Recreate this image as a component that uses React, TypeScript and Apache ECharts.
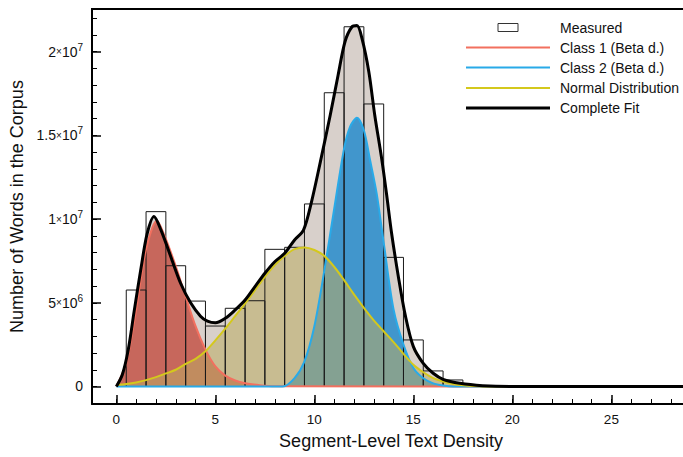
import React, { useEffect, useRef } from "react";
import * as echarts from "echarts";

const SCALE = 1e6;
const BIN_WIDTH = 1;

// Histogram (Measured), values in millions of words
const histCenters = [1, 2, 3, 4, 5, 6, 7, 8, 9, 10, 11, 12, 13, 14, 15, 16, 17];
const histCounts = [5.76, 10.44, 7.21, 5.1, 3.61, 4.67, 5.12, 8.19, 8.31, 10.9, 17.54, 21.48, 16.87, 7.71, 2.78, 0.93, 0.39];

// Complete fit
const fitX = [0, 0.3, 0.6, 0.9, 1.25, 1.55, 1.9, 2.25, 2.75, 3.25, 3.75, 4.25, 4.6, 5, 5.5, 6, 6.5, 7, 7.5, 8, 8.5, 9, 9.45, 9.85, 10.3, 10.8, 11.2, 11.55, 11.9, 12.15, 12.4, 12.75, 13.05, 13.4, 13.65, 13.9, 14.25, 14.6, 15, 15.5, 16, 16.5, 17.35, 18.5, 20, 29];
const fitY = [0, 0.7, 2.2, 4.5, 7.1, 9.1, 10.15, 9.35, 7.75, 6.15, 5.0, 4.2, 3.9, 3.8, 4.07, 4.57, 5.16, 5.96, 6.76, 7.45, 7.95, 8.75, 9.34, 11.0, 13.4, 16.2, 18.6, 20.6, 21.48, 21.55, 20.8, 18.8, 16.2, 13.6, 11.45, 9.15, 6.5, 4.2, 2.38, 1.38, 0.79, 0.43, 0.19, 0.05, 0, 0];

// Class 1 (Beta d.)
const c1X = [0, 0.5, 1, 1.5, 2.05, 2.45, 2.95, 3.45, 4, 4.5, 5, 5.5, 6, 6.5, 7.25, 8, 29];
const c1Y = [0, 1.4, 4.6, 8.2, 9.9, 8.95, 7.35, 5.55, 3.6, 2.2, 1.2, 0.65, 0.36, 0.2, 0.08, 0.02, 0];

// Class 2 (Beta d.)
const c2X = [0, 8.4, 9, 9.5, 10, 10.5, 11, 11.5, 11.8, 12.15, 12.5, 12.8, 13.15, 13.5, 14, 14.5, 15, 15.5, 16, 16.5, 17, 29];
const c2Y = [0, 0, 0.5, 1.5, 3.6, 6.9, 10.6, 14.2, 15.5, 16.05, 15.3, 13.6, 11.5, 8.6, 4.6, 2.5, 1.1, 0.49, 0.19, 0.06, 0, 0];

// Normal distribution
const nX = [0, 0.5, 1, 1.5, 2, 2.5, 3, 3.5, 4, 4.5, 5, 5.5, 6, 6.5, 7, 7.5, 8, 8.5, 9, 9.5, 10, 10.5, 11, 11.5, 12, 12.5, 13, 13.5, 14, 14.5, 15, 15.5, 16, 16.5, 17, 17.5, 18, 19, 29];
const nY = [0.1, 0.15, 0.24, 0.38, 0.56, 0.78, 1.0, 1.35, 1.65, 2.1, 2.75, 3.45, 4.2, 4.95, 5.75, 6.55, 7.25, 7.8, 8.2, 8.3, 8.15, 7.8, 7.15, 6.35, 5.5, 4.7, 3.95, 3.3, 2.65, 1.95, 1.3, 0.85, 0.5, 0.3, 0.15, 0.07, 0.03, 0, 0];

const xMajor = [0, 5, 10, 15, 20, 25];
const xMinor = [0, 1, 2, 3, 4, 5, 6, 7, 8, 9, 10, 11, 12, 13, 14, 15, 16, 17, 18, 19, 20, 21, 22, 23, 24, 25, 26, 27, 28];
const yMajor = [0, 5e6, 1e7, 1.5e7, 2e7];
const yTickLabels = ["0", "5×10^6", "1×10^7", "1.5×10^7", "2×10^7"];
const yMinor = [-1e6, 0, 1e6, 2e6, 3e6, 4e6, 5e6, 6e6, 7e6, 8e6, 9e6, 1e7, 1.1e7, 1.2e7, 1.3e7, 1.4e7, 1.5e7, 1.6e7, 1.7e7, 1.8e7, 1.9e7, 2e7, 2.1e7, 2.2e7];

const legendItems = ["Measured", "Class 1 (Beta d.)", "Class 2 (Beta d.)", "Normal Distribution", "Complete Fit"];

const FONT = "Liberation Sans, Arial, Helvetica, sans-serif";
const COL_C1 = "#f2705f";
const COL_C2 = "#29aae8";
const COL_N = "#d4c81c";

const pairs = (xs: number[], ys: number[]) => xs.map((x, i) => [x, ys[i] * SCALE]);

function richLabel(s: string) {
  if (!s.includes("×")) return "{n|" + s + "}";
  const [m, rest] = s.split("×");
  const [b, e] = rest.split("^");
  return "{n|" + m + "}{x|×}{n|" + b + "}{s|" + e + "}";
}

export default function App() {
  const ref = useRef<HTMLDivElement>(null);
  useEffect(() => {
    document.body.style.margin = "0";
    const chart = echarts.init(ref.current!, null, { renderer: "svg" });
    const X_MIN = -1.23, X_MAX = 28.97;
    const Y_MIN = -1.045e6, Y_MAX = 22.54e6;
    const lineSeries = (name: string, xs: number[], ys: number[], color: string, width: number, z: number) => ({
      name, type: "line", data: pairs(xs, ys), smooth: 0.3, symbol: "none", z,
      lineStyle: { color, width }, silent: true,
    });
    const fillSeries = (xs: number[], ys: number[], color: string, opacity: number, z: number) => ({
      type: "line", data: pairs(xs, ys), smooth: 0.3, symbol: "none", z,
      lineStyle: { width: 0, opacity: 0 }, areaStyle: { color, opacity, origin: 0 }, silent: true,
    });
    chart.setOption({
      animation: false,
      textStyle: { fontFamily: FONT },
      grid: {
        left: 92, top: 9, width: 598, height: 395, show: false,
        outerBoundsMode: "none", containLabel: false,
      },
      xAxis: [
        {
          type: "value", min: X_MIN, max: X_MAX, position: "bottom",
          axisLine: { show: true, onZero: false, lineStyle: { color: "#000", width: 2 } },
          axisTick: { show: true, inside: true, length: 9, customValues: xMajor, lineStyle: { color: "#000", width: 1.5 } },
          axisLabel: { customValues: xMajor, fontSize: 13.5, color: "#111", margin: 8, fontFamily: FONT },
          splitLine: { show: false },
          name: "Segment-Level Text Density", nameLocation: "middle", nameGap: 28,
          nameTextStyle: { fontSize: 18, color: "#111", fontFamily: FONT },
        },
        {
          type: "value", min: X_MIN, max: X_MAX, position: "bottom",
          axisLine: { show: false, onZero: false },
          axisTick: { show: true, inside: true, length: 5, customValues: xMinor, lineStyle: { color: "#000", width: 1 } },
          axisLabel: { show: false }, splitLine: { show: false },
        },
      ],
      yAxis: [
        {
          type: "value", min: Y_MIN, max: Y_MAX, position: "left",
          axisLine: { show: true, onZero: false, lineStyle: { color: "#000", width: 2 } },
          axisTick: { show: true, inside: true, length: 9, customValues: yMajor, lineStyle: { color: "#000", width: 1.5 } },
          axisLabel: {
            customValues: yMajor, margin: 9, color: "#111",
            formatter: (v: number) => richLabel(yTickLabels[yMajor.indexOf(v)] ?? ""),
            rich: {
              n: { fontSize: 14, fontFamily: FONT, color: "#111" },
              x: { fontSize: 10, fontFamily: FONT, color: "#111" },
              s: { fontSize: 10, fontFamily: FONT, color: "#111", padding: [0, 0, 9, 0] },
            },
          },
          splitLine: { show: false },
          name: "Number of Words in the Corpus", nameLocation: "middle", nameGap: 58,
          nameTextStyle: { fontSize: 18, color: "#111", fontFamily: FONT },
        },
        {
          type: "value", min: Y_MIN, max: Y_MAX, position: "left",
          axisLine: { show: false, onZero: false },
          axisTick: { show: true, inside: true, length: 5, customValues: yMinor, lineStyle: { color: "#000", width: 1 } },
          axisLabel: { show: false }, splitLine: { show: false },
        },
      ],
      series: [
        fillSeries(fitX, fitY, "#d8d0cb", 1, 1),
        fillSeries(c1X, c1Y, "rgb(193,58,44)", 0.7, 2),
        fillSeries(c2X, c2Y, "rgb(27,135,204)", 0.8, 3),
        fillSeries(nX, nY, "rgb(187,172,98)", 0.55, 4),
        {
          name: "Measured", type: "custom", z: 5, silent: true,
          data: histCenters.map((c, i) => [c - BIN_WIDTH / 2, c + BIN_WIDTH / 2, histCounts[i] * SCALE]),
          encode: { x: [0, 1], y: 2 },
          renderItem: (params: any, api: any) => {
            const p0 = api.coord([api.value(0), api.value(2)]);
            const p1 = api.coord([api.value(1), 0]);
            return {
              type: "rect",
              shape: { x: p0[0], y: p0[1], width: p1[0] - p0[0], height: p1[1] - p0[1] },
              style: { fill: "none", stroke: "#1a1a1a", lineWidth: 1 },
            };
          },
        },
        lineSeries("Class 1 (Beta d.)", c1X, c1Y, COL_C1, 2, 6),
        lineSeries("Class 2 (Beta d.)", c2X, c2Y, COL_C2, 2, 7),
        lineSeries("Normal Distribution", nX, nY, COL_N, 2, 8),
        lineSeries("Complete Fit", fitX, fitY, "#000", 3, 9),
      ],
      graphic: [
        { type: "line", shape: { x1: 91, y1: 9, x2: 690, y2: 9 }, style: { stroke: "#000", lineWidth: 2 }, z: 20 },
        { type: "rect", shape: { x: 498, y: 23.5, width: 20, height: 8 }, style: { fill: "#fff", stroke: "#333", lineWidth: 1 }, z: 20 },
        { type: "line", shape: { x1: 466, y1: 47.5, x2: 550, y2: 47.5 }, style: { stroke: COL_C1, lineWidth: 2 }, z: 20 },
        { type: "line", shape: { x1: 466, y1: 67.5, x2: 550, y2: 67.5 }, style: { stroke: COL_C2, lineWidth: 2 }, z: 20 },
        { type: "line", shape: { x1: 466, y1: 88, x2: 550, y2: 88 }, style: { stroke: COL_N, lineWidth: 2 }, z: 20 },
        { type: "line", shape: { x1: 466, y1: 108, x2: 550, y2: 108 }, style: { stroke: "#000", lineWidth: 3 }, z: 20 },
        ...legendItems.map((t, i) => ({
          type: "text", x: 560, y: [27.5, 47.5, 67.5, 88, 108][i], z: 20,
          style: { text: t, fontSize: 14, fontFamily: FONT, fill: "#111", verticalAlign: "middle", align: "left" },
        })),
      ],
    });
    return () => chart.dispose();
  }, []);
  return <div ref={ref} style={{ position: "absolute", left: 0, top: 0, width: 683, height: 457 }} />;
}
